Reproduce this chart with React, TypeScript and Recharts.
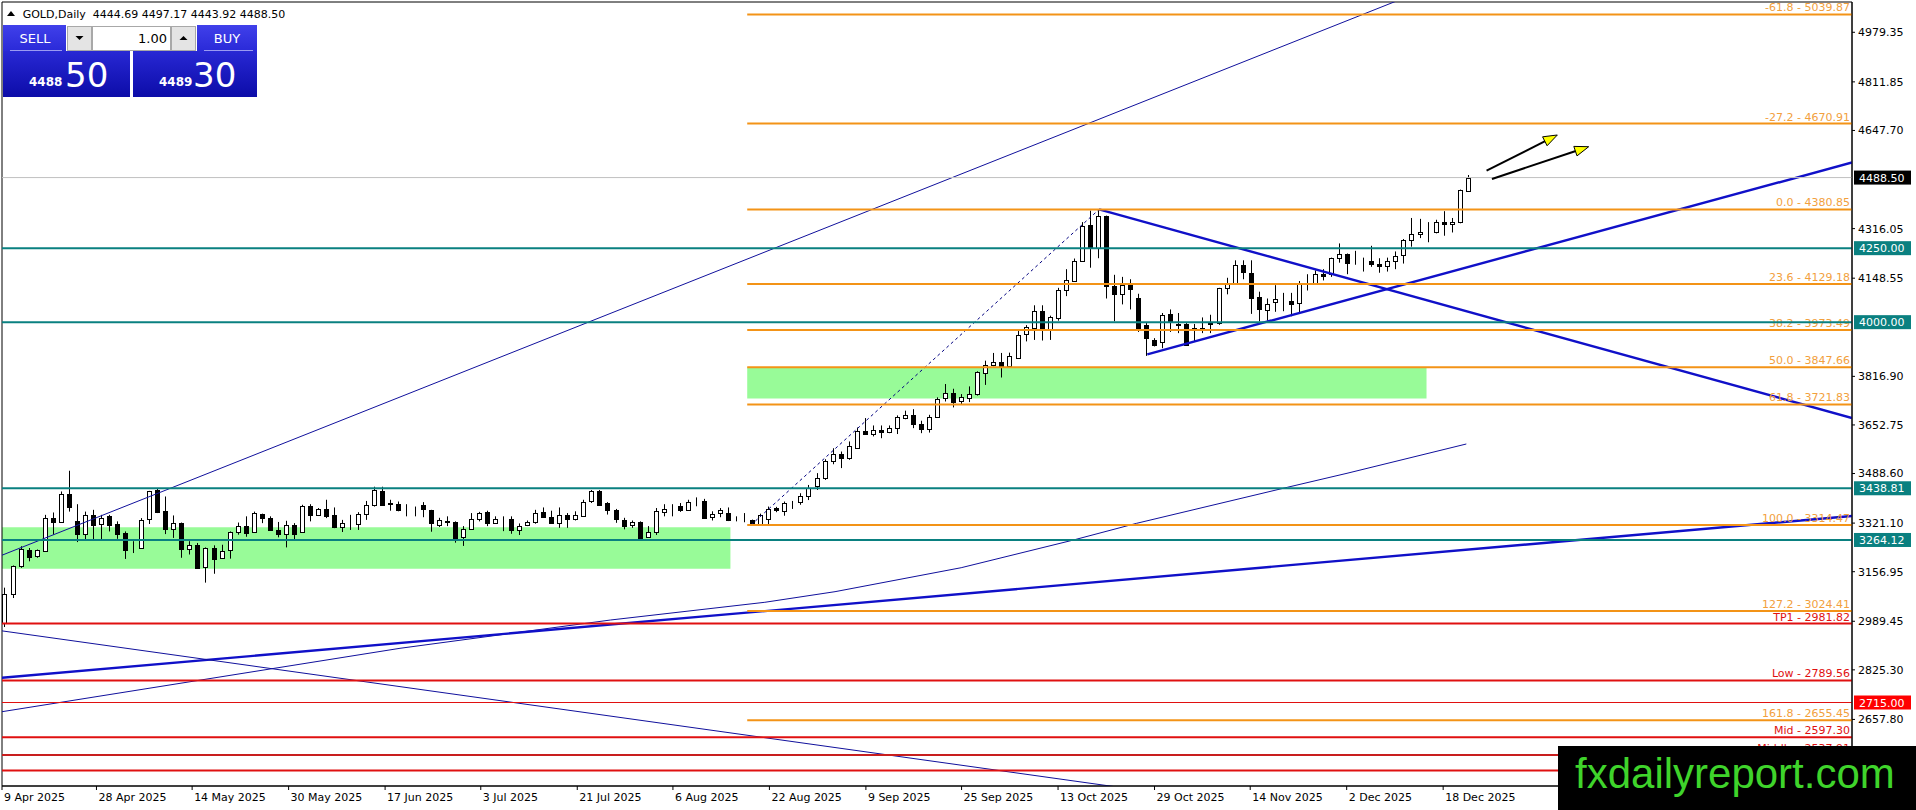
import React from 'react';
import { ComposedChart, Bar, XAxis, YAxis, ReferenceLine, ReferenceArea } from 'recharts';

// ---------- data ----------
const opens = [
  2982, 3080, 3176, 3229, 3208, 3228, 3340, 3325, 3421, 3327,
  3284, 3347, 3318, 3344, 3318, 3288, 3238, 3237, 3332, 3433,
  3363, 3302, 3321, 3234, 3248, 3172, 3237, 3203, 3228, 3290,
  3313, 3291, 3353, 3340, 3299, 3284, 3316, 3291, 3379, 3349,
  3369, 3349, 3309, 3322, 3318, 3351, 3383, 3430, 3388, 3385,
  3367, 3368, 3381, 3366, 3316, 3328, 3325, 3272, 3302, 3336,
  3358, 3322, 3337, 3336, 3300, 3313, 3322, 3358, 3341, 3322,
  3348, 3336, 3348, 3394, 3430, 3389, 3366, 3333, 3313, 3325,
  3274, 3289, 3359, 3377, 3380, 3366, 3395, 3397, 3341, 3355,
  3355, 3336, 3331, 3330, 3316, 3335, 3372, 3362, 3393, 3394,
  3411, 3445, 3473, 3529, 3555, 3540, 3577, 3633, 3622, 3636,
  3628, 3640, 3676, 3687, 3656, 3640, 3681, 3743, 3760, 3732,
  3746, 3755, 3828, 3854, 3865, 3851, 3880, 3958, 3980, 4039,
  3975, 4014, 4107, 4139, 4207, 4329, 4250, 4357, 4122, 4096,
  4125, 4080, 3989, 3940, 3933, 4028, 3991, 3995, 3977, 3975,
  3996, 3997, 4114, 4128, 4192, 4167, 4085, 4043, 4068, 4077,
  4073, 4065, 4131, 4133, 4164, 4162, 4216, 4230, 4204, 4207,
  4207, 4196, 4190, 4207, 4228, 4278, 4298, 4303, 4304, 4339,
  4332, 4338, 4444.69,
];
const highs = [
  3103, 3178, 3243, 3237, 3232, 3349, 3357, 3428, 3498, 3385,
  3360, 3366, 3349, 3349, 3327, 3293, 3260, 3338, 3430, 3439,
  3411, 3347, 3323, 3260, 3254, 3239, 3246, 3248, 3293, 3323,
  3344, 3360, 3353, 3344, 3325, 3329, 3321, 3383, 3385, 3372,
  3400, 3374, 3332, 3349, 3358, 3396, 3444, 3444, 3400, 3394,
  3385, 3377, 3392, 3366, 3339, 3344, 3327, 3311, 3355, 3359,
  3363, 3344, 3344, 3344, 3320, 3330, 3366, 3374, 3363, 3374,
  3355, 3361, 3400, 3433, 3433, 3392, 3369, 3339, 3330, 3327,
  3311, 3372, 3385, 3385, 3389, 3400, 3408, 3403, 3361, 3372,
  3374, 3344, 3355, 3333, 3353, 3377, 3376, 3394, 3396, 3422,
  3450, 3490, 3537, 3574, 3563, 3597, 3644, 3676, 3651, 3651,
  3651, 3685, 3701, 3706, 3667, 3687, 3746, 3791, 3775, 3757,
  3783, 3834, 3870, 3896, 3896, 3897, 3975, 3990, 4057, 4057,
  4022, 4116, 4179, 4215, 4338, 4377, 4381, 4360, 4160, 4153,
  4145, 4096, 3997, 3946, 4031, 4043, 4031, 3997, 3994, 4016,
  4025, 4116, 4150, 4209, 4209, 4209, 4103, 4080, 4125, 4099,
  4099, 4139, 4162, 4175, 4179, 4218, 4266, 4232, 4241, 4218,
  4258, 4216, 4218, 4239, 4281, 4352, 4349, 4338, 4346, 4375,
  4352, 4448, 4497.17,
];
const lows = [
  2970, 3068, 3170, 3192, 3204, 3226, 3282, 3325, 3360, 3257,
  3265, 3265, 3265, 3293, 3268, 3200, 3220, 3235, 3318, 3355,
  3284, 3271, 3204, 3215, 3168, 3120, 3150, 3201, 3201, 3282,
  3275, 3289, 3321, 3295, 3273, 3239, 3265, 3291, 3327, 3345,
  3338, 3304, 3291, 3298, 3298, 3332, 3377, 3381, 3363, 3361,
  3344, 3344, 3341, 3292, 3308, 3311, 3255, 3244, 3300, 3327,
  3311, 3322, 3294, 3285, 3281, 3311, 3319, 3339, 3319, 3305,
  3305, 3330, 3344, 3389, 3381, 3350, 3322, 3300, 3305, 3268,
  3272, 3281, 3344, 3344, 3359, 3363, 3378, 3336, 3330, 3341,
  3328, 3327, 3324, 3314, 3314, 3317, 3358, 3346, 3369, 3383,
  3399, 3433, 3467, 3520, 3507, 3535, 3574, 3620, 3614, 3608,
  3625, 3622, 3672, 3642, 3625, 3627, 3677, 3732, 3712, 3723,
  3730, 3752, 3788, 3851, 3813, 3845, 3878, 3935, 3940, 3938,
  3940, 4005, 4088, 4137, 4205, 4184, 4216, 4080, 4003, 4060,
  4043, 3967, 3886, 3918, 3912, 3967, 3963, 3921, 3935, 3963,
  3963, 3991, 4094, 4126, 4145, 4028, 4003, 4005, 4035, 4037,
  4020, 4031, 4107, 4128, 4141, 4153, 4201, 4162, 4194, 4171,
  4187, 4167, 4171, 4179, 4198, 4255, 4284, 4270, 4300, 4292,
  4303, 4334, 4443.92,
];
const closes = [
  3080, 3176, 3235, 3206, 3229, 3340, 3325, 3421, 3377, 3284,
  3347, 3313, 3338, 3313, 3284, 3232, 3237, 3332, 3428, 3360,
  3301, 3323, 3234, 3248, 3170, 3237, 3201, 3228, 3290, 3310,
  3290, 3355, 3338, 3298, 3284, 3316, 3285, 3379, 3347, 3369,
  3347, 3307, 3323, 3322, 3351, 3383, 3433, 3383, 3386, 3366,
  3366, 3369, 3366, 3322, 3332, 3326, 3272, 3300, 3336, 3355,
  3322, 3336, 3336, 3300, 3313, 3324, 3354, 3341, 3322, 3348,
  3336, 3350, 3394, 3428, 3383, 3366, 3336, 3313, 3324, 3272,
  3291, 3361, 3370, 3378, 3366, 3394, 3394, 3339, 3352, 3364,
  3333, 3336, 3331, 3316, 3350, 3369, 3366, 3390, 3394, 3413,
  3439, 3473, 3531, 3554, 3540, 3582, 3633, 3622, 3636, 3628,
  3642, 3678, 3687, 3655, 3640, 3681, 3741, 3760, 3730, 3746,
  3758, 3830, 3854, 3865, 3847, 3884, 3958, 3982, 4039, 3977,
  4017, 4107, 4141, 4207, 4326, 4255, 4357, 4122, 4096, 4125,
  4110, 3977, 3946, 3924, 4023, 4003, 3995, 3923, 3979, 3980,
  3998, 4114, 4128, 4192, 4167, 4082, 4043, 4062, 4077, 4076,
  4062, 4128, 4133, 4162, 4156, 4216, 4230, 4201, 4203, 4206,
  4196, 4189, 4207, 4224, 4278, 4298, 4306, 4304, 4338, 4332,
  4340, 4445, 4488.5,
];

const dateLabels = [
  '9 Apr 2025', '28 Apr 2025', '14 May 2025', '30 May 2025', '17 Jun 2025', '3 Jul 2025',
  '21 Jul 2025', '6 Aug 2025', '22 Aug 2025', '9 Sep 2025', '25 Sep 2025', '13 Oct 2025',
  '29 Oct 2025', '14 Nov 2025', '2 Dec 2025', '18 Dec 2025',
];
const dateTickBars = [-0.249, 11.5, 23.4, 35.4, 47.4, 59.3, 71.3, 83.2, 95.2, 107.2, 119.1, 131.1, 143.1, 155.0, 167.0, 179.0];

const priceTicks = [4979.35, 4811.85, 4647.7, 4316.05, 4148.55, 3816.9, 3652.75, 3488.6, 3321.1, 3156.95, 2989.45, 2825.3, 2657.8];

const fibRatios = ['-61.8', '-27.2', '0.0', '23.6', '38.2', '50.0', '61.8', '100.0', '127.2', '161.8'];
const fibPrices = [5039.87, 4670.91, 4380.85, 4129.18, 3973.49, 3847.66, 3721.83, 3314.47, 3024.41, 2655.45];
const fibStartBar = 92.44;

const tealLevels = [4250.0, 4000.0, 3438.81, 3264.12];
const currentPrice = 4488.5;
const redNames = ['TP1', 'Low', 'Mid', 'Middle', ''];
const redLevels = [2981.82, 2789.56, 2597.3, 2537.91, 2485.5];
const redThinLevel = 2715.0;

// green zones: [fromBar, toBar, lowPrice, highPrice]
const zoneFrom = [-0.249, 92.44];
const zoneTo = [90.35, 176.93];
const zoneLow = [3167, 3742];
const zoneHigh = [3307, 3848];

// straight trend lines: [bar, price] -> [bar, price]
const trendFromBar = [-0.4975, -0.4975, -0.4975, 136.2, 142.2];
const trendFromPrice = [3210, 2797.8, 2957.9, 4380.85, 3891.4];
const trendToBar = [229.85, 229.85, 229.85, 229.85, 229.85];
const trendToPrice = [5696.6, 3345.1, 2081.8, 3676.2, 4539.4];
const trendWidth = [1, 2.4, 1, 2.4, 2.4];

// fib anchor (dashed) line
const fibAnchorBars = [92.9, 136.2];
const fibAnchorPrices = [3314.47, 4380.85];

// thin curved line
const curveBars = [-0.4975, 49.25, 75.44, 94.63, 103.36, 119.05, 133.02, 140.87, 159.63, 167.04, 181.88];
const curvePrices = [2682.9, 2898.1, 2993.7, 3053.6, 3089.4, 3170.4, 3264.0, 3320.4, 3442.1, 3489.4, 3588.4];

// arrows
const arrowFromBar = [184.4, 185.07];
const arrowFromPrice = [4511.8, 4483.7];
const arrowToBar = [193.2, 197.1];
const arrowToPrice = [4632.4, 4592.8];

// ---------- layout constants ----------
const W = 1916;
const H = 810;
const X0 = -0.249;
const X1 = 229.85;
const Y0 = 2432.9;
const Y1 = 5081.7;

const ORANGE = '#f39317';
const ORANGE_TXT = '#f2a03d';
const TEAL = '#0a8080';
const RED = '#e01010';
const BLUE = '#1010c8';
const BLUE_THIN = '#10109c';
const FONT = 'DejaVu Sans, Verdana, sans-serif';

const chartData = opens.map((o, i) => {
  const c = closes[i];
  const h = Math.max(highs[i], o, c);
  const l = Math.min(lows[i], o, c);
  return { i, o, c, hi: h, lo: l, range: [l, h] };
});

const Candle = (props: any) => {
  const { x, y, width, height, payload } = props;
  if (x == null || y == null || !payload) return null;
  const cx = Math.round(x + (width || 0) / 2) + 0.5;
  const top = Math.min(y, y + height);
  const h = Math.abs(height);
  const { o, c, hi, lo } = payload;
  const span = hi - lo;
  const toY = (v: number) => (span === 0 ? top : top + ((hi - v) / span) * h);
  const yo = toY(o);
  const yc = toY(c);
  const bull = c >= o;
  const bTop = Math.round(Math.min(yo, yc)) + 0.5;
  const bH = Math.max(0, Math.round(Math.abs(yc - yo)));
  return (
    <g>
      <line x1={cx} x2={cx} y1={top} y2={top + h} stroke="#000" strokeWidth={1} />
      <rect x={cx - 2} y={bTop} width={4} height={bH} fill={bull ? '#fff' : '#000'} stroke="#000" strokeWidth={1} />
    </g>
  );
};

const LevelLabel = (props: any) => {
  const vb = props.viewBox || {};
  const x = vb.x || 0;
  const y = vb.y || 0;
  const width = vb.width || 0;
  const right = x + width;
  return (
    <g>
      {props.text ? (
        <text x={right - 2} y={y - 3} textAnchor="end" fontSize={11} fill={props.color} fontFamily={FONT}>
          {props.text}
        </text>
      ) : null}
      {props.box ? (
        <g>
          <rect x={right + 2} y={y - 7} width={57} height={14} fill={props.boxBg} />
          <text x={right + 7} y={y + 4} fontSize={11} fill="#fff" fontFamily={FONT}>
            {props.box}
          </text>
        </g>
      ) : null}
    </g>
  );
};

const ArrowShape = (props: any) => {
  const { x1, y1, x2, y2 } = props;
  if ([x1, y1, x2, y2].some((v) => v == null || isNaN(v))) return null;
  const ang = Math.atan2(y2 - y1, x2 - x1);
  const len = 14;
  const half = 5;
  const bx = x2 - len * Math.cos(ang);
  const by = y2 - len * Math.sin(ang);
  const px = -Math.sin(ang) * half;
  const py = Math.cos(ang) * half;
  return (
    <g>
      <line x1={x1} y1={y1} x2={bx + 2 * Math.cos(ang)} y2={by + 2 * Math.sin(ang)} stroke="#000" strokeWidth={2} />
      <polygon points={`${x2},${y2} ${bx + px},${by + py} ${bx - px},${by - py}`} fill="#ffff00" stroke="#000" strokeWidth={1} />
    </g>
  );
};

const DateTick = (props: any) => {
  const { x, y, payload } = props;
  let idx = 0;
  let best = Infinity;
  dateTickBars.forEach((b, k) => {
    const d = Math.abs(b - payload.value);
    if (d < best) {
      best = d;
      idx = k;
    }
  });
  return (
    <text x={x + 2} y={y + 9} fontSize={11} fill="#000" textAnchor="start" fontFamily={FONT}>
      {dateLabels[idx]}
    </text>
  );
};

const Overlay = () => (
  <svg width={W} height={H} style={{ position: 'absolute', left: 0, top: 0, pointerEvents: 'none' }}>
    <defs>
      <linearGradient id="gTop" x1="0" y1="0" x2="0" y2="1">
        <stop offset="0" stopColor="#4040ea" />
        <stop offset="1" stopColor="#2a2ad8" />
      </linearGradient>
      <linearGradient id="gBot" x1="0" y1="0" x2="0" y2="1">
        <stop offset="0" stopColor="#2828d4" />
        <stop offset="1" stopColor="#0c0ca8" />
      </linearGradient>
    </defs>
    {/* header */}
    <polygon points="7,16 15,16 11,11" fill="#000" />
    <text x={22.7} y={17.5} fontSize={11} fill="#000" fontFamily={FONT} style={{ whiteSpace: 'pre' }}>
      {'GOLD,Daily  4444.69 4497.17 4443.92 4488.50'}
    </text>
    {/* trade panel */}
    <rect x={3} y={25} width={63} height={26} fill="url(#gTop)" />
    <text x={35} y={43} textAnchor="middle" fontSize={13} fill="#fff" fontFamily={FONT}>SELL</text>
    <line x1={10} x2={62} y1={50.5} y2={50.5} stroke="#9a9af2" strokeWidth={1} />
    <rect x={3} y={51} width={127} height={46} fill="url(#gBot)" />
    <text x={29} y={86} fontSize={12} fontWeight="bold" fill="#fff" fontFamily={FONT}>4488</text>
    <text x={65} y={87} fontSize={34} fill="#fff" fontFamily={FONT}>50</text>

    <rect x={67.5} y={26.5} width={24} height={24} fill="#e4e4e4" stroke="#a8a8a8" />
    <polygon points="75.5,36 83.5,36 79.5,40" fill="#000" />
    <rect x={92.5} y={26.5} width={78} height={24} fill="#fff" stroke="#a8a8a8" />
    <text x={167} y={43} textAnchor="end" fontSize={13} fill="#000" fontFamily={FONT}>1.00</text>
    <rect x={171.5} y={26.5} width={24} height={24} fill="#e4e4e4" stroke="#a8a8a8" />
    <polygon points="179.5,40 187.5,40 183.5,36" fill="#000" />

    <rect x={197} y={25} width={60} height={26} fill="url(#gTop)" />
    <text x={227} y={43} textAnchor="middle" fontSize={13} fill="#fff" fontFamily={FONT}>BUY</text>
    <line x1={204} x2={253} y1={50.5} y2={50.5} stroke="#9a9af2" strokeWidth={1} />
    <rect x={133} y={51} width={124} height={46} fill="url(#gBot)" />
    <text x={159} y={86} fontSize={12} fontWeight="bold" fill="#fff" fontFamily={FONT}>4489</text>
    <text x={193} y={87} fontSize={34} fill="#fff" fontFamily={FONT}>30</text>

    {/* watermark */}
    <rect x={1558} y={746} width={358} height={64} fill="#000" />
    <text x={1575} y={788} fontSize={42} fill="#3fd42b" fontFamily="Liberation Sans, Arial, sans-serif">
      fxdailyreport.com
    </text>
  </svg>
);

export default function App() {
  return (
    <div style={{ position: 'relative', width: W, height: H, background: '#fff', fontFamily: FONT, overflow: 'hidden' }}>
      <style>{'html,body{margin:0;padding:0;background:#fff;}'}</style>
      <ComposedChart width={W} height={H} data={chartData} margin={{ top: 2, right: 0, bottom: 0, left: 2 }}>
        <XAxis
          dataKey="i"
          type="number"
          domain={[X0, X1]}
          allowDataOverflow
          ticks={dateTickBars}
          interval={0}
          tick={<DateTick />}
          tickSize={4}
          tickMargin={2}
          height={24}
          axisLine={{ stroke: '#000' }}
          tickLine={{ stroke: '#000' }}
        />
        <YAxis
          orientation="right"
          width={64}
          domain={[Y0, Y1]}
          allowDataOverflow
          ticks={priceTicks}
          interval={0}
          tickFormatter={(v: number) => v.toFixed(2)}
          tick={{ fontSize: 11, fill: '#000', fontFamily: FONT }}
          tickSize={3}
          tickMargin={3}
          axisLine={{ stroke: '#000' }}
          tickLine={{ stroke: '#000' }}
        />

        {zoneFrom.map((f, k) => (
          <ReferenceArea
            key={`zone-${k}`}
            x1={f}
            x2={zoneTo[k]}
            y1={zoneLow[k]}
            y2={zoneHigh[k]}
            fill="#98fb98"
            fillOpacity={1}
            stroke="none"
            ifOverflow="hidden"
          />
        ))}

        <Bar dataKey="range" barSize={5} shape={<Candle />} isAnimationActive={false} />

        {curveBars.slice(1).map((b, k) => (
          <ReferenceLine
            key={`curve-${k}`}
            segment={[
              { x: curveBars[k], y: curvePrices[k] },
              { x: b, y: curvePrices[k + 1] },
            ]}
            stroke={BLUE_THIN}
            strokeWidth={1}
            ifOverflow="hidden"
          />
        ))}

        {trendFromBar.map((b, k) => (
          <ReferenceLine
            key={`trend-${k}`}
            segment={[
              { x: b, y: trendFromPrice[k] },
              { x: trendToBar[k], y: trendToPrice[k] },
            ]}
            stroke={trendWidth[k] > 1 ? BLUE : BLUE_THIN}
            strokeWidth={trendWidth[k]}
            ifOverflow="hidden"
          />
        ))}

        <ReferenceLine
          segment={[
            { x: fibAnchorBars[0], y: fibAnchorPrices[0] },
            { x: fibAnchorBars[1], y: fibAnchorPrices[1] },
          ]}
          stroke="#000080"
          strokeWidth={1}
          strokeDasharray="3 3"
          ifOverflow="hidden"
        />

        {fibPrices.map((p, k) => (
          <ReferenceLine
            key={`fib-${k}`}
            segment={[
              { x: fibStartBar, y: p },
              { x: X1, y: p },
            ]}
            stroke={ORANGE}
            strokeWidth={2}
            ifOverflow="hidden"
            label={<LevelLabel text={`${fibRatios[k]} - ${p.toFixed(2)}`} color={ORANGE_TXT} />}
          />
        ))}

        {tealLevels.map((p, k) => (
          <ReferenceLine
            key={`teal-${k}`}
            y={p}
            stroke={TEAL}
            strokeWidth={2}
            ifOverflow="hidden"
            label={<LevelLabel box={p.toFixed(2)} boxBg={TEAL} />}
          />
        ))}

        {redLevels.map((p, k) => (
          <ReferenceLine
            key={`red-${k}`}
            y={p}
            stroke={k === 3 ? '#c81e1e' : RED}
            strokeWidth={2}
            ifOverflow="hidden"
            label={<LevelLabel text={redNames[k] ? `${redNames[k]} - ${p.toFixed(2)}` : ''} color={RED} />}
          />
        ))}

        <ReferenceLine
          y={redThinLevel}
          stroke={RED}
          strokeWidth={1}
          ifOverflow="hidden"
          label={<LevelLabel box={redThinLevel.toFixed(2)} boxBg="#ff0000" />}
        />

        <ReferenceLine
          y={currentPrice}
          stroke="#c0c0c0"
          strokeWidth={1}
          ifOverflow="hidden"
          label={<LevelLabel box={currentPrice.toFixed(2)} boxBg="#000" />}
        />

        {arrowFromBar.map((b, k) => (
          <ReferenceLine
            key={`arrow-${k}`}
            segment={[
              { x: b, y: arrowFromPrice[k] },
              { x: arrowToBar[k], y: arrowToPrice[k] },
            ]}
            stroke="#000"
            ifOverflow="visible"
            shape={(p: any) => <ArrowShape {...p} />}
          />
        ))}

        <ReferenceArea x1={X0} x2={X1} y1={Y0} y2={Y1} fill="none" fillOpacity={0} stroke="#000" strokeWidth={1} ifOverflow="visible" />
      </ComposedChart>
      <Overlay />
    </div>
  );
}
